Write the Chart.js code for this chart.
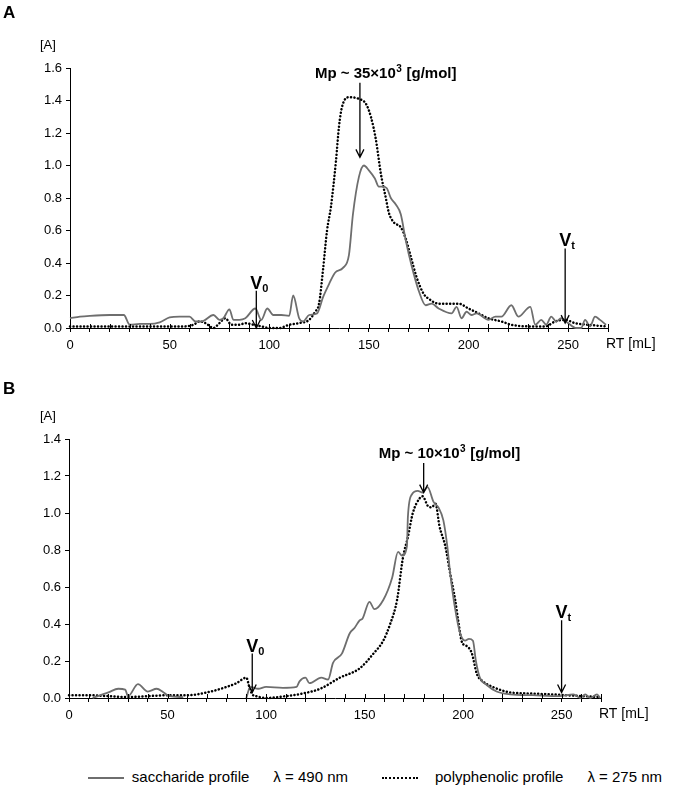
<!DOCTYPE html>
<html>
<head>
<meta charset="utf-8">
<script src="https://cdn.jsdelivr.net/npm/chart.js@4.4.1/dist/chart.umd.min.js"></script>
<style>
  body { margin: 0; background: #fff; font-family: "Liberation Sans", Arial, sans-serif; }
  #wrap { position: relative; width: 676px; height: 790px; }
  canvas { position: absolute; left: 0; }
  #chartA { top: 0; }
  #chartB { top: 370px; }
  .legend { position: absolute; top: 767px; font-size: 15px; color: #000; white-space: nowrap; line-height: 20px; }
  .sample { display: inline-block; vertical-align: middle; width: 36px; height: 0; }
  .gap { display: inline-block; width: 24px; }
</style>
</head>
<body>
<div id="wrap">
  <canvas id="chartA" width="676" height="370"></canvas>
  <canvas id="chartB" width="676" height="370"></canvas>
  <div class="legend" style="right: 328px;">
    <span class="sample" style="border-top: 2px solid #6e6e6e; margin-right: 8px;"></span>saccharide profile<span class="gap"></span>λ = 490 nm
  </div>
  <div class="legend" style="left: 382px;">
    <span class="sample" style="border-top: 2px dotted #000; margin-right: 17px;"></span>polyphenolic profile<span class="gap"></span>λ = 275 nm
  </div>
</div>
<script>
// panel A - saccharide (490 nm)
const aRtSacch = [0, 5, 10, 20, 27, 30, 35, 40, 45, 50, 55, 60, 63, 66, 72, 75, 77, 80, 82, 85,
  88, 93, 96, 99, 102, 106, 110, 112, 115, 117, 120, 124, 127, 130, 133, 137, 140, 142, 145, 147.5,
  150, 153, 155, 157, 159, 161, 163.5, 166, 168.5, 171.5, 175, 178.5, 181.5, 185, 191.5, 194, 196.5, 199, 201.5, 204,
  210, 213.5, 216.5, 221.5, 225, 231, 233.5, 236.5, 239, 241.5, 244, 246.5, 250, 254, 256.5, 258.5, 261, 263.5, 266, 269];
const aSacch = [0.06, 0.07, 0.075, 0.08, 0.08, 0.02, 0.025, 0.025, 0.035, 0.065, 0.07, 0.07, 0.04, 0.04, 0.08, 0.05, 0.06, 0.115, 0.05, 0.05,
  0.06, 0.12, 0.05, 0.12, 0.08, 0.08, 0.075, 0.2, 0.06, 0.04, 0.08, 0.09, 0.19, 0.27, 0.34, 0.37, 0.45, 0.7, 0.93, 1.0,
  0.97, 0.92, 0.87, 0.87, 0.86, 0.8, 0.76, 0.7, 0.54, 0.38, 0.23, 0.14, 0.15, 0.12, 0.09, 0.13, 0.06, 0.1, 0.08, 0.09,
  0.05, 0.07, 0.07, 0.14, 0.07, 0.13, 0.02, 0.05, 0.02, 0.07, 0.04, 0.06, 0.03, 0.0, 0.0, 0.05, 0.01, 0.07, 0.05, 0.02];

// panel A - polyphenolic (275 nm)
const aRtPoly = [0, 20, 40, 58, 62, 65, 68, 72, 75, 78, 81, 85, 88, 92, 96, 100, 105, 110, 115, 120,
  123, 125, 127, 129, 131, 133.5, 135, 136.5, 140, 145, 148.5, 151, 153.5, 156, 158.5, 160, 162.5, 166, 168.5, 171,
  174, 177.5, 180, 185, 195, 200, 205, 210, 216.5, 221.5, 230, 238.5, 243.5, 248.5, 253.5, 260, 269];
const aPoly = [0.01, 0.01, 0.01, 0.01, 0.02, 0.04, 0.03, 0.0, 0.03, 0.06, 0.02, 0.02, 0.03, 0.02, 0.01, 0.0, 0.0, 0.02, 0.03, 0.05,
  0.1, 0.15, 0.36, 0.6, 0.75, 1.03, 1.24, 1.36, 1.42, 1.41, 1.38, 1.3, 1.16, 0.95, 0.8, 0.71, 0.65, 0.62, 0.55, 0.44,
  0.31, 0.21, 0.18, 0.15, 0.15, 0.12, 0.09, 0.06, 0.04, 0.02, 0.01, 0.01, 0.04, 0.05, 0.03, 0.02, 0.01];

// panel B - saccharide (null = gap in trace)
const bRtSacch = [12, 20, 25, 28.5, 30, 35, 40, 44.5, 48, 51, 58, 70, 90, 92, 96, 100, 108.5, 115.5, 117, 120,
  122, 128, 131.5, 134, 138.5, 142.5, 145, 147.5, 149, 152.5, 155, 159.5, 164, 167, 169, 171.5, 172, 174, 177, 179.5,
  182, 185, 187.5, 190, 192, 193.5, 196, 198.5, 201, 203, 205, 206.5, 208.5, 212, 217, 224, 235.5, 249, 256, 259.5,
  262, 264.5, 268, 269.5];
const bSacch = [0, 0.03, 0.05, 0.045, 0.01, 0.075, 0.035, 0.05, 0.03, 0.01, 0.005, null, 0.0, 0.06, 0.05, 0.06, 0.055, 0.06, 0.09, 0.11,
  0.08, 0.11, 0.1, 0.19, 0.24, 0.35, 0.38, 0.42, 0.43, 0.52, 0.48, 0.53, 0.65, 0.79, 0.77, 0.82, 0.98, 1.1, 1.12, 1.11,
  1.14, 1.06, 1.03, 0.96, 0.82, 0.67, 0.48, 0.35, 0.31, 0.32, 0.31, 0.2, 0.11, 0.07, 0.035, 0.02, 0.015, 0.01, 0.02, 0.0,
  0.02, 0.0, 0.02, 0.0];

// panel B - polyphenolic
const bRtPoly = [0, 10, 20, 30, 40, 50, 60, 70, 80, 85, 90, 91.5, 93, 95, 100, 110, 119, 127.5, 137.5, 147.5,
  154.5, 159.5, 163, 166.5, 169.5, 172, 174.5, 178, 179.5, 182, 184, 186, 188, 191, 193.5, 196, 197.5, 199.5, 202, 204.5,
  207, 210, 215, 224, 232.5, 244, 252.5, 269.5];
const bPoly = [0.015, 0.015, 0.01, 0.005, 0.01, 0.015, 0.015, 0.03, 0.06, 0.08, 0.11, 0.06, 0.02, 0.01, 0.0, 0.01, 0.025, 0.05, 0.11, 0.16,
  0.24, 0.31, 0.4, 0.53, 0.76, 0.87, 1.0, 1.08, 1.09, 1.04, 1.03, 1.05, 0.93, 0.82, 0.67, 0.53, 0.42, 0.3, 0.28, 0.24,
  0.13, 0.09, 0.06, 0.03, 0.025, 0.02, 0.015, 0.005];

// markers: V0, Vt, Mp  (retention volume, arrow start, arrow tip)
const aMarkRt = [93.5, 248.5, 145.5];
const aMarkFrom = [0.23, 0.49, 1.51];
const aMarkTo = [0.0, 0.03, 1.05];
const bMarkRt = [93, 250, 180];
const bMarkFrom = [0.24, 0.42, 1.27];
const bMarkTo = [0.03, 0.03, 1.11];
const aMp = "35";
const bMp = "10";

const FONT = '"Liberation Sans", Arial, sans-serif';

function toPoints(xs, ys) {
  return xs.map((x, i) => ({ x: x, y: ys[i] }));
}

function drawArrow(ctx, x, y0, y1) {
  ctx.beginPath();
  ctx.moveTo(x, y0);
  ctx.lineTo(x, y1);
  ctx.moveTo(x - 4, y1 - 8);
  ctx.lineTo(x, y1);
  ctx.lineTo(x + 4, y1 - 8);
  ctx.stroke();
}

function drawV(ctx, x, yTop, sub) {
  ctx.textAlign = "center";
  ctx.textBaseline = "alphabetic";
  ctx.font = "bold 18px " + FONT;
  ctx.fillText("V", x, yTop);
  ctx.textAlign = "left";
  ctx.font = "bold 11px " + FONT;
  ctx.fillText(sub, x + 6, yTop + 3);
}

function drawMp(ctx, left, base, num) {
  ctx.textAlign = "left";
  ctx.textBaseline = "alphabetic";
  ctx.font = "bold 15px " + FONT;
  const t1 = "Mp ~ " + num + "×10";
  ctx.fillText(t1, left, base);
  let x = left + ctx.measureText(t1).width;
  ctx.font = "bold 10px " + FONT;
  ctx.fillText("3", x + 0.5, base - 6);
  x += ctx.measureText("3").width + 1;
  ctx.font = "bold 15px " + FONT;
  ctx.fillText(" [g/mol]", x, base);
}

function makePanel(id, p) {
  const marks = {
    id: "marks",
    afterDraw(chart) {
      const ctx = chart.ctx;
      const xs = chart.scales.x;
      const ys = chart.scales.y;
      const area = chart.chartArea;
      ctx.save();
      ctx.strokeStyle = "#000";
      ctx.fillStyle = "#000";
      ctx.lineWidth = 1;
      // upper halves of the x ticks
      xs.ticks.forEach(t => {
        const px = Math.round(xs.getPixelForValue(t.value)) + 0.5;
        ctx.beginPath();
        ctx.moveTo(px, area.bottom);
        ctx.lineTo(px, area.bottom - 4);
        ctx.stroke();
      });
      ctx.textBaseline = "top";
      ctx.textAlign = "left";
      ctx.font = "bold 17px " + FONT;
      ctx.fillText(p.letter, 3, p.letterTop);
      ctx.textBaseline = "middle";
      ctx.font = "13px " + FONT;
      ctx.fillText("[A]", 40, area.top - 23);
      ctx.font = "14px " + FONT;
      ctx.fillText("RT [mL]", area.right - 2, area.bottom + 16);

      ctx.lineWidth = 1.3;
      const subs = ["0", "t"];
      p.markRt.forEach((rt, i) => {
        const px = xs.getPixelForValue(rt);
        const y0 = ys.getPixelForValue(p.markFrom[i]);
        const y1 = ys.getPixelForValue(p.markTo[i]);
        drawArrow(ctx, px, y0, y1);
        if (i < 2) {
          drawV(ctx, px, y0 - 2, subs[i]);
        } else {
          drawMp(ctx, px - 45, y0 - 5, p.mp);
        }
      });
      ctx.restore();
    }
  };

  return new Chart(document.getElementById(id), {
    type: "line",
    data: {
      datasets: [{
        label: "saccharide profile λ = 490 nm",
        data: toPoints(p.rtSacch, p.sacch),
        borderColor: "#6e6e6e",
        borderWidth: 1.8,
        pointRadius: 0,
        cubicInterpolationMode: "monotone",
        spanGaps: false,
        clip: false
      }, {
        label: "polyphenolic profile λ = 275 nm",
        data: toPoints(p.rtPoly, p.poly),
        borderColor: "#000",
        borderWidth: 2.5,
        borderDash: [0.1, 3.4],
        borderCapStyle: "round",
        pointRadius: 0,
        cubicInterpolationMode: "monotone",
        clip: false
      }]
    },
    options: {
      responsive: false,
      animation: false,
      layout: { padding: { top: p.top, right: p.right, left: 0, bottom: 0 } },
      plugins: { legend: { display: false }, tooltip: { enabled: false } },
      scales: {
        x: {
          type: "linear",
          min: 0,
          max: 270,
          afterFit: s => { s.height = 42; },
          border: { color: "#000", width: 1 },
          grid: { drawOnChartArea: false, color: "#000", tickLength: 4 },
          ticks: {
            stepSize: 10,
            autoSkip: false,
            maxRotation: 0,
            padding: 6,
            color: "#000",
            font: { family: FONT, size: 13 },
            callback: v => (v % 50 === 0 ? v : "")
          }
        },
        y: {
          min: 0,
          max: p.yMax,
          afterFit: s => { s.width = p.axisLeft; },
          border: { color: "#000", width: 1 },
          grid: { drawOnChartArea: false, color: "#000", tickLength: 4 },
          ticks: {
            stepSize: 0.2,
            padding: 4,
            color: "#000",
            font: { family: FONT, size: 13 },
            callback: v => v.toFixed(1)
          }
        }
      }
    },
    plugins: [marks]
  });
}

makePanel("chartA", {
  rtSacch: aRtSacch, sacch: aSacch, rtPoly: aRtPoly, poly: aPoly,
  markRt: aMarkRt, markFrom: aMarkFrom, markTo: aMarkTo, mp: aMp,
  yMax: 1.6, top: 68, right: 68, axisLeft: 70, letter: "A", letterTop: 5
});
makePanel("chartB", {
  rtSacch: bRtSacch, sacch: bSacch, rtPoly: bRtPoly, poly: bPoly,
  markRt: bMarkRt, markFrom: bMarkFrom, markTo: bMarkTo, mp: bMp,
  yMax: 1.4, top: 69, right: 75, axisLeft: 69, letter: "B", letterTop: 11
});
</script>
</body>
</html>
